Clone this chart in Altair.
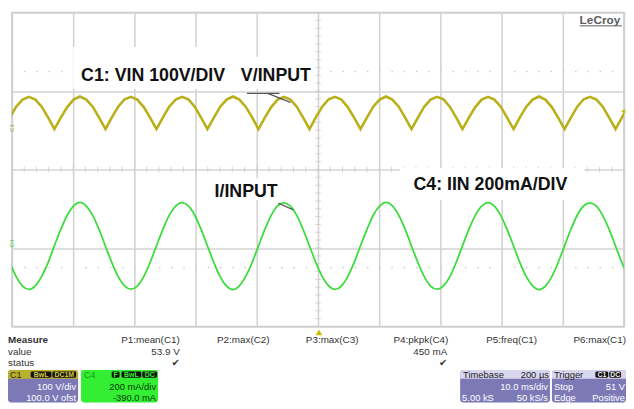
import altair as alt
import pandas as pd

# ---------------- waveform samples ----------------
# time in ms (timebase 10 ms/div, 10 divisions)
time_ms = [
    -1.39, -0.35, 0.69, 1.74, 2.78, 3.82, 4.86, 5.90,
    6.94, 7.98, 9.03, 10.07, 11.11, 12.15, 13.19, 14.24,
    15.28, 16.32, 17.36, 18.40, 19.44, 20.48, 21.53, 22.57,
    23.61, 24.65, 25.69, 26.74, 27.78, 28.82, 29.86, 30.90,
    31.94, 32.99, 34.03, 35.07, 36.11, 37.15, 38.19, 39.24,
    40.28, 41.32, 42.36, 43.40, 44.44, 45.49, 46.53, 47.57,
    48.61, 49.65, 50.70, 51.74, 52.78, 53.82, 54.86, 55.90,
    56.95, 57.99, 59.03, 60.07, 61.11, 62.15, 63.20, 64.24,
    65.28, 66.32, 67.36, 68.40, 69.45, 70.49, 71.53, 72.57,
    73.61, 74.65, 75.70, 76.74, 77.78, 78.82, 79.86, 80.90,
    81.95, 82.99, 84.03, 85.07, 86.11, 87.15, 88.20, 89.24,
    90.28, 91.32, 92.36, 93.40, 94.45, 95.49, 96.53, 97.57,
    98.61, 99.65, 100.70,
]
# C1: rectified input voltage (V)
c1_volts = [
    3, 32, 60, 78, 85, 78, 60, 33,
    3, 32, 59, 78, 86, 78, 60, 32,
    3, 33, 60, 79, 85, 78, 59, 32,
    3, 32, 60, 78, 85, 79, 60, 32,
    3, 32, 60, 78, 86, 78, 60, 33,
    3, 32, 59, 78, 85, 78, 60, 32,
    3, 33, 60, 79, 85, 78, 59, 32,
    3, 32, 60, 78, 86, 78, 60, 32,
    3, 32, 60, 78, 85, 79, 60, 33,
    3, 32, 59, 78, 85, 78, 60, 32,
    3, 33, 60, 78, 86, 78, 59, 32,
    3, 32, 60, 79, 85, 78, 60, 32,
    3, 32, 60,
]
# C4: input current (mA)
c4_milliamps = [
    0, -84, -156, -204, -221, -203, -155, -85,
    2, 85, 157, 204, 222, 203, 156, 84,
    -1, -85, -156, -203, -220, -204, -156, -84,
    1, 84, 156, 203, 221, 204, 157, 85,
    0, -84, -157, -204, -222, -203, -155, -84,
    1, 85, 156, 204, 220, 203, 156, 84,
    0, -85, -156, -203, -221, -204, -156, -85,
    2, 84, 157, 203, 222, 204, 156, 85,
    -1, -84, -156, -204, -220, -203, -157, -84,
    1, 85, 156, 203, 221, 203, 156, 84,
    0, -85, -156, -203, -222, -204, -156, -84,
    1, 84, 157, 204, 220, 203, 155, 85,
    0, -84, -156,
]

# channel settings shown on the scope
C1_V_PER_DIV, C1_OFFSET_V = 100, 100
C4_MA_PER_DIV, C4_OFFSET_MA = 200, -390

# graticule
grid_time = list(range(0, 101, 10))
grid_div = list(range(-4, 5))
minor_time = [i * 2 for i in range(51)]
minor_div = [round(-4 + i * 0.2, 2) for i in range(41)]

# on-screen annotations (data coordinates: ms, divisions)
screen_labels = ["C1: VIN 100V/DIV", "V/INPUT", "I/INPUT", "C4: IIN 200mA/DIV"]
label_t = [11.3, 37.4, 33.1, 65.6]
label_div = [2.26, 2.26, -0.70, -0.53]
box_t1 = [10.0, 37.3, 32.4, 63.4]
box_t2 = [37.1, 49.6, 44.8, 93.5]
box_top = [3.12, 2.87, -0.23, 0.03]
box_bot = [2.05, 2.05, -0.78, -0.78]
arrow_t1 = [38.4, 41.8, 43.5]
arrow_t2 = [43.7, 45.5, 46.0]
arrow_d1 = [1.94, 1.94, -0.86]
arrow_d2 = [1.94, 1.71, -1.03]

FONT = "Liberation Sans, Arial, sans-serif"
W, H = 620, 318
OX, OY = 12, 10  # plot origin on the page

wave = pd.DataFrame({"t": time_ms, "volts": c1_volts, "ma": c4_milliamps})

xscale = alt.Scale(domain=[0, 100], nice=False, zero=False)
yscale = alt.Scale(domain=[-4, 4], nice=False, zero=False)
xaxis = alt.Axis(values=grid_time, grid=True, labels=False, ticks=False, domain=False,
                 title=None, gridColor="#d3d3d3", gridWidth=1.6)
yaxis = alt.Axis(values=grid_div, grid=True, labels=False, ticks=False, domain=False,
                 title=None, gridColor="#d3d3d3", gridWidth=1.6)


def X(f):
    return alt.X(f, scale=xscale, axis=xaxis)


def Y(f):
    return alt.Y(f, scale=yscale, axis=yaxis)


# dotted faint rows
dots = alt.Chart(pd.DataFrame({"d": [2.5, -2.5]})).mark_rule(
    color="#cfcfcf", strokeWidth=1.5, strokeDash=[1.5, 10.9]
).encode(y=Y("d:Q"), x=alt.datum(0), x2=alt.datum(100))

xt = alt.Chart(pd.DataFrame({"t": minor_time})).mark_tick(
    orient="vertical", size=6, thickness=1, color="#c8c8c8"
).encode(x=X("t:Q"), y=alt.datum(0))
yt = alt.Chart(pd.DataFrame({"d": minor_div})).mark_tick(
    orient="horizontal", size=6, thickness=1, color="#c8c8c8"
).encode(y=Y("d:Q"), x=alt.datum(50))

boxes = alt.Chart(pd.DataFrame({"t1": box_t1, "t2": box_t2, "d1": box_top, "d2": box_bot})).mark_rect(
    color="white"
).encode(x=X("t1:Q"), x2="t2", y=Y("d1:Q"), y2="d2")

c1_line = alt.Chart(wave).transform_calculate(
    pos=f"(datum.volts + {C1_OFFSET_V}) / {C1_V_PER_DIV}"
).mark_line(clip=True, color="#b8b018", strokeWidth=2.6).encode(x=X("t:Q"), y=Y("pos:Q"))

c4_line = alt.Chart(wave).transform_calculate(
    pos=f"(datum.ma + {C4_OFFSET_MA}) / {C4_MA_PER_DIV}"
).mark_line(clip=True, color="#3ddc3d", strokeWidth=1.8, interpolate="monotone").encode(
    x=X("t:Q"), y=Y("pos:Q"))

labels = alt.Chart(pd.DataFrame({"t": label_t, "d": label_div, "text": screen_labels})).mark_text(
    align="left", baseline="alphabetic", font=FONT, fontWeight="bold", fontSize=18, color="#111111"
).encode(x=X("t:Q"), y=Y("d:Q"), text="text:N")

arrows = alt.Chart(pd.DataFrame({"t1": arrow_t1, "t2": arrow_t2, "d1": arrow_d1, "d2": arrow_d2})).mark_rule(
    color="#555555", strokeWidth=1.2
).encode(x=X("t1:Q"), x2="t2", y=Y("d1:Q"), y2="d2")

# ---------------- instrument panel (page pixel layout) ----------------
def px_df(rows, cols):
    df = pd.DataFrame(rows, columns=cols)
    for c in cols:
        if c in ("x1", "x2", "x"):
            df[c] = df[c] - OX
        if c in ("y1", "y2", "y"):
            df[c] = df[c] - OY
    return df


def rect_layer(rows, **kw):
    df = px_df(rows, ["x1", "x2", "y1", "y2", "fill"])
    return alt.Chart(df).mark_rect(**kw).encode(
        x=alt.X("x1:Q", scale=None, axis=None), x2="x2",
        y=alt.Y("y1:Q", scale=None, axis=None), y2="y2",
        color=alt.Color("fill:N", scale=None))


def text_layer(rows, align, weight="normal", font=FONT, baseline="alphabetic", angle=0):
    df = px_df(rows, ["x", "y", "text", "color", "size"])
    mk = dict(align=align, baseline=baseline, font=font, fontWeight=weight)
    if angle:
        mk["angle"] = angle
    return alt.Chart(df).mark_text(**mk).encode(
        x=alt.X("x:Q", scale=None, axis=None), y=alt.Y("y:Q", scale=None, axis=None),
        text="text:N", color=alt.Color("color:N", scale=None), size=alt.Size("size:Q", scale=None))


PURPLE = "#7c79b6"
GREEN = "#33ee33"
INK = "#333333"

panel_boxes = rect_layer([
    (8, 79, 372, 405, PURPLE),
    (82, 160, 372, 405, GREEN),
    (466, 557, 372, 405, PURPLE),
    (559, 634, 372, 405, PURPLE),
], cornerRadius=3)
panel_heads = rect_layer([
    (8, 79, 372, 381, "#b9b02c"),
    (82, 160, 372, 381, GREEN),
    (466, 557, 372, 381, "#d8d6ee"),
    (559, 634, 372, 381, "#d8d6ee"),
], cornerRadiusTopLeft=3, cornerRadiusTopRight=3)
badges = rect_layer([
    (31, 52, 373.5, 380, "#111111"),
    (53, 77, 373.5, 380, "#111111"),
    (113, 121, 373.5, 380, "#111111"),
    (123, 143, 373.5, 380, "#111111"),
    (144, 159, 373.5, 380, "#111111"),
    (603, 616, 373.5, 380, "#111111"),
    (617, 629, 373.5, 380, "#111111"),
], cornerRadius=1.5)
badge_text = text_layer([
    (41.5, 377, "BwL", "#d4ca3c", 7),
    (65, 377, "DC1M", "#d4ca3c", 7),
    (117, 377, "F", GREEN, 7),
    (133, 377, "BwL", GREEN, 7),
    (151.5, 377, "DC", GREEN, 7),
    (609.5, 377, "C1", "#eeeeee", 7),
    (623, 377, "DC", "#eeeeee", 7),
], "center", weight="bold", baseline="middle")

left_text = text_layer([
    (8, 356.5, "value", INK, 10),
    (8, 368, "status", INK, 10),
    (10, 380, "C1", "#2e2a08", 9),
    (85, 380, "C4", "#159a15", 9),
    (469, 380, "Timebase", "#222222", 9.5),
    (561, 380, "Trigger", "#222222", 9.5),
    (468, 403, "5.00 kS", "white", 9.5),
    (561, 392, "Stop", "white", 9.5),
    (561, 403, "Edge", "white", 9.5),
], "left")
bold_text = text_layer([
    (8, 345, "Measure", INK, 10),
    (587, 22, "LeCroy", "#5c5c5c", 12),
], "left", weight="bold")
right_text = text_layer([
    (182, 345, "P1:mean(C1)", INK, 10),
    (273, 345, "P2:max(C2)", INK, 10),
    (363, 345, "P3:max(C3)", INK, 10),
    (454, 345, "P4:pkpk(C4)", INK, 10),
    (544, 345, "P5:freq(C1)", INK, 10),
    (634, 345, "P6:max(C1)", INK, 10),
    (182, 356.5, "53.9 V", INK, 10),
    (453, 356.5, "450 mA", INK, 10),
    (77, 392, "100 V/div", "white", 9.5),
    (77, 403, "100.0 V ofst", "white", 9.5),
    (158, 392, "200 mA/div", "#0b3b0b", 9.5),
    (158, 403, "-390.0 mA", "#0b3b0b", 9.5),
    (556, 380, "200 µs", "#222222", 9.5),
    (555, 392, "10.0 ms/div", "white", 9.5),
    (555, 403, "50 kS/s", "white", 9.5),
    (633, 392, "51 V", "white", 9.5),
    (633, 403, "Positive", "white", 9.5),
], "right")
checks = text_layer([
    (182, 368, "✔", INK, 10),
    (453, 368, "✔", INK, 10),
], "right", font="DejaVu Sans")
chan_tags = text_layer([
    (12.5, 127, "C1", "#b0a61e", 6),
    (12.5, 244, "C4", "#33cc33", 6),
], "center", baseline="middle", angle=270)

underline = alt.Chart(px_df([(587, 630, 23.5)], ["x1", "x2", "y"])).mark_rule(
    color="#5c5c5c", strokeWidth=1
).encode(x=alt.X("x1:Q", scale=None, axis=None), x2="x2", y=alt.Y("y:Q", scale=None, axis=None))

markers = alt.Chart(px_df([(323, 334, "triangle-up", 45), (631, 110, "triangle-left", 22)],
                          ["x", "y", "shape", "sz"])).mark_point(
    filled=True, color="#c9bb00", opacity=1
).encode(x=alt.X("x:Q", scale=None, axis=None), y=alt.Y("y:Q", scale=None, axis=None),
         shape=alt.Shape("shape:N", scale=None), size=alt.Size("sz:Q", scale=None))

chart = alt.layer(
    dots, xt, yt, boxes, c1_line, c4_line, labels, arrows,
    panel_boxes, panel_heads, badges, badge_text,
    left_text, bold_text, right_text, checks, chan_tags, underline, markers,
).properties(
    width=W, height=H,
    padding={"left": 4, "top": 2, "right": 2, "bottom": 79},
    autosize=alt.AutoSizeParams(type="none"),
    background="white",
).configure_view(stroke="#c2c2c2", strokeWidth=1.5)

chart.save("out.html", embed_options={"renderer": "svg", "actions": False})
